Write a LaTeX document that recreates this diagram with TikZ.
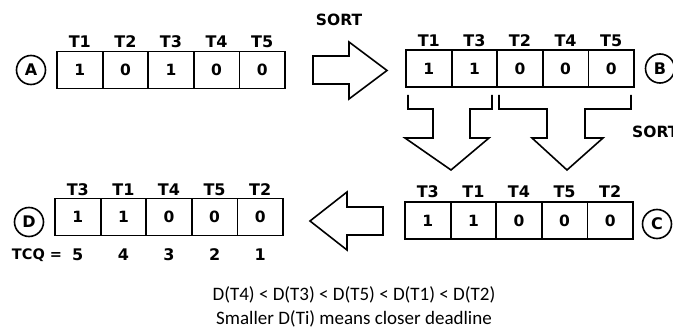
\documentclass[tikz,border=0pt]{standalone}
\usepackage{fontspec}
\setmainfont{DejaVu Sans}
\newfontfamily\calfont{Carlito}
\begin{document}
\begin{tikzpicture}[x=1pt,y=-1pt,
  cell/.style={draw,line width=1.8pt,minimum width=45.6pt,minimum height=37pt,inner sep=0pt,font=\bfseries\fontsize{15.5}{15.5}\selectfont},
  tlab/.style={inner sep=0pt,font=\bfseries\fontsize{16}{16}\selectfont},
  circ/.style={draw,circle,line width=1.6pt,minimum size=29pt,inner sep=0pt,font=\bfseries\fontsize{16}{16}\selectfont},
  bigarrow/.style={draw,line width=1.6pt,line join=miter},
  sorttxt/.style={inner sep=0pt,font=\bfseries\fontsize{15.5}{15.5}\selectfont},
  note/.style={inner sep=0pt,font=\calfont\fontsize{19}{19}\selectfont}]
\useasboundingbox (0,0) rectangle (673,331);
% array A
\foreach \v/\t [count=\i] in {1/T1,0/T2,1/T3,0/T4,0/T5}{
  \node[cell] (A\i) at ({57+22.8+45.6*(\i-1)},70) {\v};
  \node[tlab] (At\i) at ({57+22.8+45.6*(\i-1)},42) {\t};
}
% array B
\foreach \v/\t [count=\i] in {1/T1,1/T3,0/T2,0/T4,0/T5}{
  \node[cell] (B\i) at ({406+22.8+45.6*(\i-1)},68.5) {\v};
  \node[tlab] (Bt\i) at ({406+22.8+45.6*(\i-1)},41) {\t};
}
% array C
\foreach \v/\t [count=\i] in {1/T3,1/T1,0/T4,0/T5,0/T2}{
  \node[cell] (C\i) at ({405+22.8+45.6*(\i-1)},220.5) {\v};
  \node[tlab] (Ct\i) at ({405+22.8+45.6*(\i-1)},192) {\t};
}
% array D
\foreach \v/\t/\q [count=\i] in {1/T3/5,1/T1/4,0/T4/3,0/T5/2,0/T2/1}{
  \node[cell] (D\i) at ({55+22.8+45.6*(\i-1)},217) {\v};
  \node[tlab] (Dt\i) at ({55+22.8+45.6*(\i-1)},190) {\t};
  \node[tlab] (Dq\i) at ({55+22.8+45.6*(\i-1)},255) {\q};
}
\node[tlab,font=\bfseries\fontsize{14.5}{14.5}\selectfont] (tcq) at (37,255) {TCQ =};
% circles
\node[circ] (cA) at (31,70) {A};
\node[circ] (cB) at (660,68.5) {B};
\node[circ] (cC) at (657,224) {C};
\node[circ] (cD) at (29,222) {D};
% SORT labels
\node[sorttxt] (s1) at (339,20) {SORT};
\node[sorttxt,anchor=west] (s2) at (632,132) {SORT};
% right arrow
\draw[bigarrow] (313,56) -- (349,56) -- (349,42) -- (387,70.5) -- (349,99) -- (349,84) -- (313,84) -- cycle;
% left arrow
\draw[bigarrow] (383,207) -- (347,207) -- (347,192) -- (310,221) -- (347,250) -- (347,235) -- (383,235) -- cycle;
% down arrows (bracketed)
\draw[bigarrow] (408,95) -- (408,109) -- (433,109) -- (433,138) -- (405,138) -- (451,170) -- (489,138) -- (470,138) -- (470,109) -- (492,109) -- (492,95);
\draw[bigarrow] (499,95) -- (499,109) -- (547,109) -- (547,138) -- (532,138) -- (567,170) -- (603,138) -- (585,138) -- (585,109) -- (631,109) -- (631,95);
% notes
\node[note] (n1) at (354,295) {D(T4) < D(T3) < D(T5) < D(T1) < D(T2)};
\node[note] (n2) at (354,319) {Smaller D(Ti) means closer deadline};
\end{tikzpicture}
\end{document}
